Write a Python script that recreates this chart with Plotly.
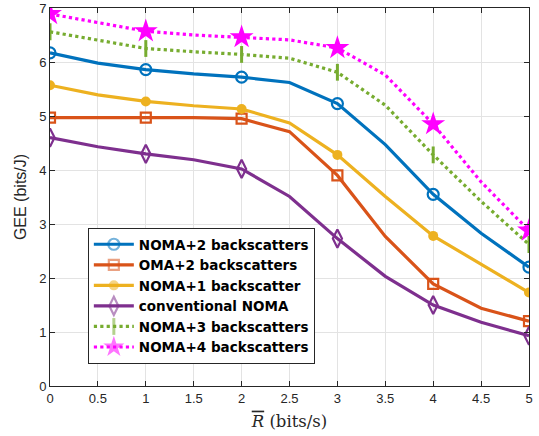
import plotly.graph_objects as go

x_vals = [0, 0.5, 1, 1.5, 2, 2.5, 3, 3.5, 4, 4.5, 5]

noma2 = [6.17, 5.98, 5.86, 5.78, 5.72, 5.62, 5.23, 4.47, 3.55, 2.83, 2.20]
oma2 = [4.97, 4.97, 4.97, 4.97, 4.95, 4.71, 3.90, 2.77, 1.89, 1.44, 1.20]
noma1 = [5.57, 5.39, 5.27, 5.19, 5.13, 4.87, 4.28, 3.51, 2.78, 2.25, 1.73]
conv = [4.60, 4.43, 4.30, 4.19, 4.02, 3.51, 2.73, 2.03, 1.50, 1.18, 0.93]
noma3 = [6.56, 6.40, 6.25, 6.19, 6.14, 6.07, 5.81, 5.20, 4.28, 3.42, 2.62]
noma4 = [6.89, 6.73, 6.57, 6.50, 6.46, 6.41, 6.26, 5.76, 4.85, 3.78, 2.88]

labels = ["NOMA+2 backscatters", "OMA+2 backscatters", "NOMA+1 backscatter",
          "conventional NOMA", "NOMA+3 backscatters", "NOMA+4 backscatters"]

x_ticks = [0, 0.5, 1, 1.5, 2, 2.5, 3, 3.5, 4, 4.5, 5]
y_ticks = [0, 1, 2, 3, 4, 5, 6, 7]

marker_opacity = [1 if float(v).is_integer() else 0 for v in x_vals]

styles = [
    dict(color="#0072BD", symbol="circle-open", size=11, dash="solid", lw=2.2),
    dict(color="#D95319", symbol="square-open", size=10, dash="solid", lw=2.2),
    dict(color="#EDB120", symbol="circle", size=10, dash="solid", lw=0),
    dict(color="#7E2F8E", symbol="diamond-tall-open", size=13, dash="solid", lw=2.2),
    dict(color="#77AC30", symbol="line-ns", size=12, dash="dot", lw=3),
    dict(color="#FF00FF", symbol="star", size=18, dash="dot", lw=0),
]

fig = go.Figure()
for ys, lab, st in zip([noma2, oma2, noma1, conv, noma3, noma4], labels, styles):
    fig.add_trace(go.Scatter(
        x=x_vals, y=ys, name=lab, mode="lines+markers",
        line=dict(color=st["color"], width=3.2, dash=st["dash"]),
        marker=dict(symbol=st["symbol"], size=st["size"], color=st["color"],
                    opacity=marker_opacity,
                    line=dict(color=st["color"], width=st["lw"])),
    ))

axis_common = dict(
    showgrid=True, gridcolor="#E3E3E3", gridwidth=1,
    showline=True, linecolor="#262626", linewidth=1, mirror="ticks",
    ticks="inside", ticklen=5, tickcolor="#262626",
    zeroline=False, ticklabeloverflow="allow",
    tickfont=dict(family="Liberation Sans, Arial", size=13, color="#262626"),
)

fig.update_xaxes(range=[0, 5], tickvals=x_ticks,
                 ticktext=[f"{t:g}" for t in x_ticks],
                 title=dict(text='<span style="text-decoration:overline"><i>R</i></span> (bits/s)',
                            font=dict(family="DejaVu Serif", size=16.5, color="#262626"),
                            standoff=10),
                 **axis_common)
fig.update_yaxes(range=[0, 7], tickvals=y_ticks,
                 title=dict(text="GEE (bits/J)",
                            font=dict(family="Liberation Sans, Arial", size=16, color="#262626"),
                            standoff=8),
                 **axis_common)

fig.update_layout(
    width=539, height=436,
    margin=dict(l=50, r=10, t=8, b=50, autoexpand=False),
    paper_bgcolor="white", plot_bgcolor="white",
    showlegend=True,
    legend=dict(x=0.079, y=0.418, xanchor="left", yanchor="top",
                bgcolor="white", bordercolor="#262626", borderwidth=1,
                font=dict(family="DejaVu Sans", size=13.5, color="black", weight="bold"),
                itemwidth=40, tracegroupgap=0),
)

fig.write_html("out.html", config={"displayModeBar": False},
               post_script="document.body.style.margin='0';")
